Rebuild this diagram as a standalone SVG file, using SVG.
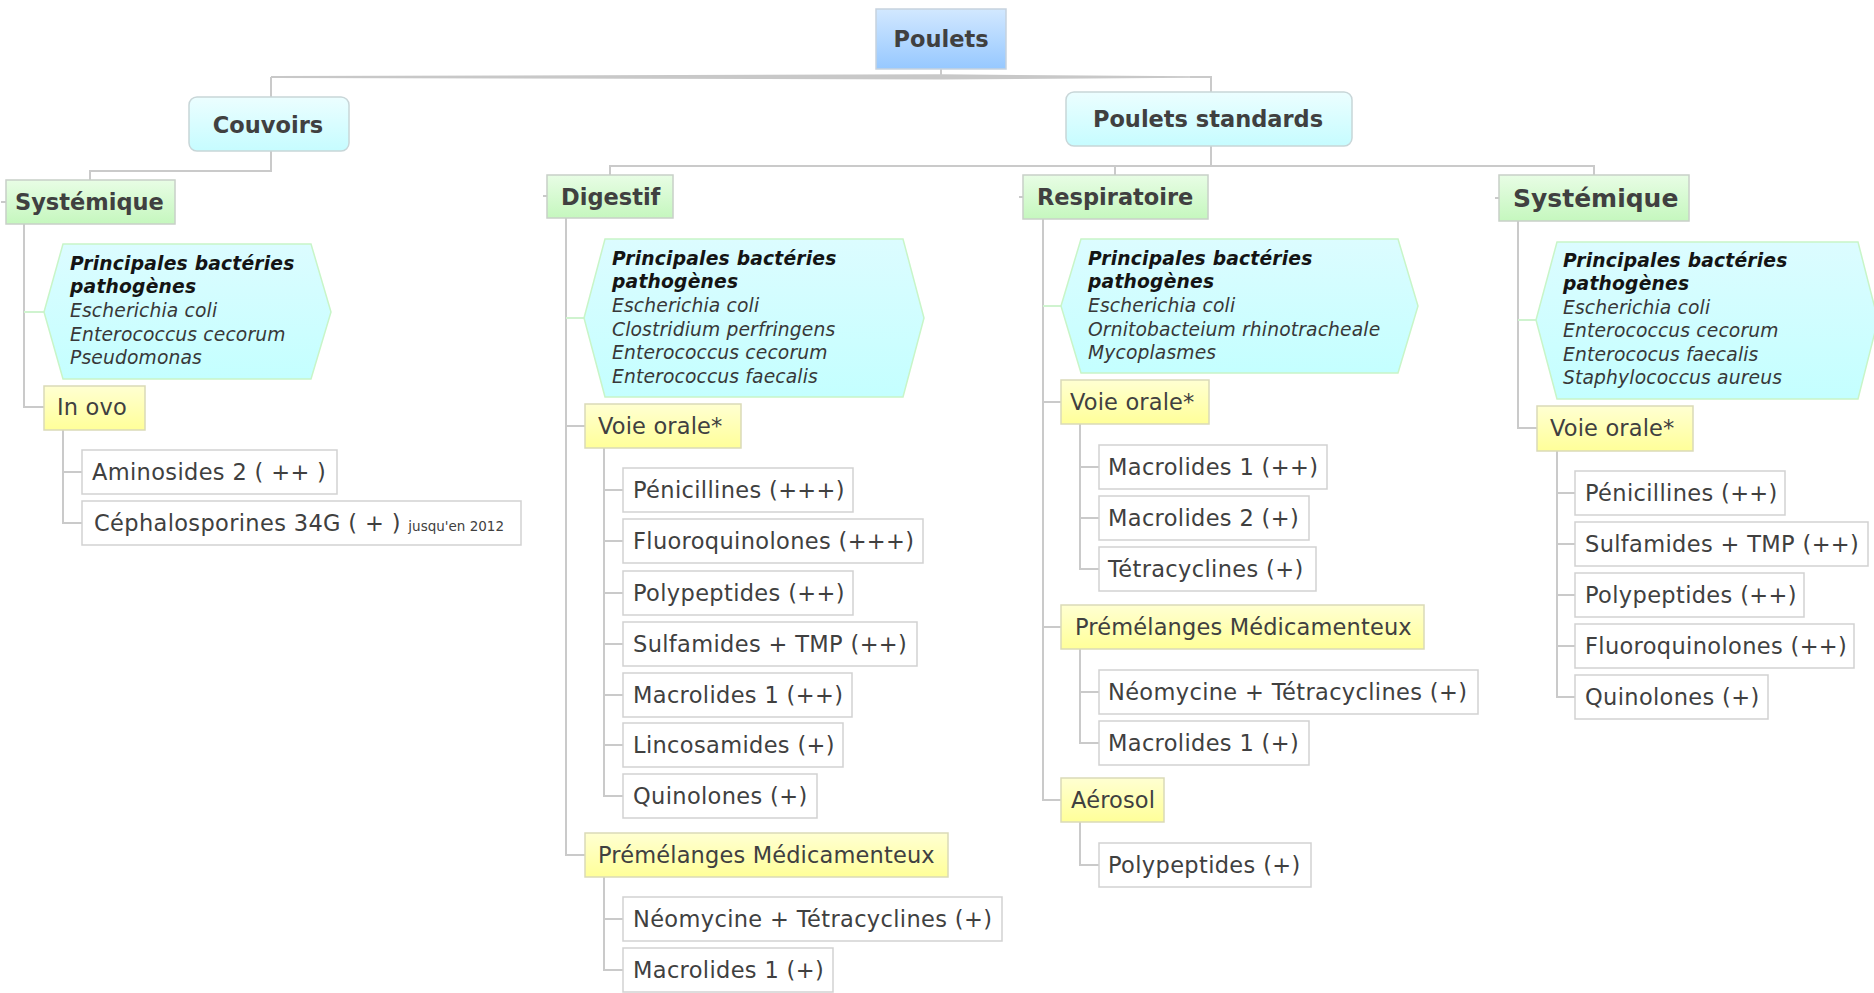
<svg xmlns="http://www.w3.org/2000/svg" width="1874" height="993" viewBox="0 0 1874 993">
<defs>
<linearGradient id="gBlue" x1="0" y1="0" x2="0" y2="1"><stop offset="0" stop-color="#d2e8ff"/><stop offset="1" stop-color="#96c8ff"/></linearGradient>
<linearGradient id="gCyan" x1="0" y1="0" x2="0" y2="1"><stop offset="0" stop-color="#ecfeff"/><stop offset="1" stop-color="#c6fcff"/></linearGradient>
<linearGradient id="gGreen" x1="0" y1="0" x2="0" y2="1"><stop offset="0" stop-color="#e8fde5"/><stop offset="1" stop-color="#c5f7be"/></linearGradient>
<linearGradient id="gYellow" x1="0" y1="0" x2="0" y2="1"><stop offset="0" stop-color="#ffffd2"/><stop offset="1" stop-color="#ffff99"/></linearGradient>
<linearGradient id="gHex" x1="0" y1="0" x2="0" y2="1"><stop offset="0" stop-color="#dcfcff"/><stop offset="1" stop-color="#c4ffff"/></linearGradient>
</defs>
<style>
.t{font-family:"DejaVu Sans",Verdana,sans-serif;fill:#404040}
.b{font-weight:bold;font-size:22.5px}
.r{font-size:22.5px;letter-spacing:0.35px}
.y{font-size:22.5px;letter-spacing:0.15px}
.hb{font-family:"DejaVu Sans",Verdana,sans-serif;font-weight:bold;font-style:italic;font-size:18.7px;letter-spacing:0.2px;fill:#141414}
.hi{font-family:"DejaVu Sans",Verdana,sans-serif;font-style:italic;font-size:18.7px;letter-spacing:0.15px;fill:#383838}
.leaf{fill:#ffffff;stroke:#d2d2d2;stroke-width:1.5}
.yel{fill:url(#gYellow);stroke:#dadab8;stroke-width:1.5}
.grn{fill:url(#gGreen);stroke:#c8d0c8;stroke-width:1.5}
.cyn{fill:url(#gCyan);stroke:#c8d6d8;stroke-width:1.5}
.hex{fill:url(#gHex);stroke:#c8f5c8;stroke-width:1.5}
.c{fill:none;stroke:#cacaca;stroke-width:2}
.cg{fill:none;stroke:#cff3cf;stroke-width:2}
</style>
<rect width="1874" height="993" fill="#ffffff"/>

<g id="connectors">
<polygon points="271,76 941,74.3 1195,76.3 1195,77.7 941,79.5 271,78" fill="#c8c8c8"/>
<path class="c" d="M941,69V76 M271,97V77 M1190,77H1211V92 M271,151V171H90V180 M1211,146V166 M610,175V166H1594V175 M1115,166V175"/>
<path class="c" d="M1,202H6 M543,196H547 M1019,197H1023 M1495,198H1499"/>
<path class="c" d="M24,224V407H44 M63,430V523H82 M63,472H82"/>
<path class="c" d="M566,218V855H585 M566,426H585 M604,448V796H623 M604,490H623 M604,541H623 M604,593H623 M604,644H623 M604,695H623 M604,745H623 M604,877V919H623"/>
<path class="c" d="M604,900V970H623"/>
<path class="c" d="M1043,219V800H1061 M1043,402H1061 M1043,627H1061 M1080,424V569H1099 M1080,467H1099 M1080,518H1099 M1080,649V743H1099 M1080,692H1099 M1080,822V865H1099"/>
<path class="c" d="M1518,221V428H1537 M1557,451V697H1575 M1557,493H1575 M1557,544H1575 M1557,595H1575 M1557,646H1575"/>
<path class="cg" d="M24,312H44 M566,318H584 M1043,306H1061 M1518,320H1536"/>
</g>

<g id="poulets"><rect x="876" y="9" width="130" height="60" fill="url(#gBlue)" stroke="#c6d2de" stroke-width="1.5"/><text class="t b" x="941" y="47" text-anchor="middle">Poulets</text></g>
<g id="couvoirs"><rect class="cyn" x="189" y="97" width="160" height="54" rx="8"/><text class="t b" x="268" y="133" text-anchor="middle">Couvoirs</text></g>
<g id="poulets-standards"><rect class="cyn" x="1066" y="92" width="286" height="54" rx="8"/><text class="t b" x="1208" y="127" text-anchor="middle">Poulets standards</text></g>

<g id="systemique-couvoirs"><rect class="grn" x="6" y="180" width="169" height="44"/><text class="t b" x="15" y="210">Systémique</text></g>
<g id="bact-couvoirs"><polygon class="hex" points="44,312 63,244 311,244 331,312 311,379 63,379"/>
<text class="hb" x="70" y="270">Principales bactéries</text><text class="hb" x="70" y="293">pathogènes</text>
<text class="hi" x="70" y="317">Escherichia coli</text><text class="hi" x="70" y="341">Enterococcus cecorum</text><text class="hi" x="70" y="364">Pseudomonas</text></g>
<g id="in-ovo"><rect class="yel" x="44" y="386" width="101" height="44"/><text class="t y" x="57" y="415">In ovo</text></g>
<g id="aminosides"><rect class="leaf" x="82" y="450" width="255" height="44"/><text class="t r" x="92" y="480">Aminosides 2 ( ++ )</text></g>
<g id="cephalosporines"><rect class="leaf" x="82" y="501" width="439" height="44"/><text class="t r" x="94" y="531">Céphalosporines 34G ( + ) <tspan font-size="13.5" letter-spacing="0">jusqu'en 2012</tspan></text></g>

<g id="digestif"><rect class="grn" x="547" y="175" width="126" height="43"/><text class="t b" x="561" y="205">Digestif</text></g>
<g id="bact-digestif"><polygon class="hex" points="584,318 605,239 903,239 924,318 903,397 605,397"/>
<text class="hb" x="612" y="265">Principales bactéries</text><text class="hb" x="612" y="288">pathogènes</text>
<text class="hi" x="612" y="312">Escherichia coli</text><text class="hi" x="612" y="336">Clostridium perfringens</text><text class="hi" x="612" y="359">Enterococcus cecorum</text><text class="hi" x="612" y="383">Enterococcus faecalis</text></g>
<g id="dig-voie-orale"><rect class="yel" x="585" y="404" width="156" height="44"/><text class="t y" x="598" y="434">Voie orale*</text></g>
<g id="dig-l1"><rect class="leaf" x="623" y="468" width="230" height="44"/><text class="t r" x="633" y="498">Pénicillines (+++)</text></g>
<g id="dig-l2"><rect class="leaf" x="623" y="519" width="300" height="44"/><text class="t r" x="633" y="549">Fluoroquinolones (+++)</text></g>
<g id="dig-l3"><rect class="leaf" x="623" y="571" width="230" height="44"/><text class="t r" x="633" y="601">Polypeptides (++)</text></g>
<g id="dig-l4"><rect class="leaf" x="623" y="622" width="294" height="44"/><text class="t r" x="633" y="652">Sulfamides + TMP (++)</text></g>
<g id="dig-l5"><rect class="leaf" x="623" y="673" width="229" height="44"/><text class="t r" x="633" y="703">Macrolides 1 (++)</text></g>
<g id="dig-l6"><rect class="leaf" x="623" y="723" width="220" height="44"/><text class="t r" x="633" y="753">Lincosamides (+)</text></g>
<g id="dig-l7"><rect class="leaf" x="623" y="774" width="194" height="44"/><text class="t r" x="633" y="804">Quinolones (+)</text></g>
<g id="dig-premelanges"><rect class="yel" x="585" y="833" width="363" height="44"/><text class="t y" x="598" y="863">Prémélanges Médicamenteux</text></g>
<g id="dig-l8"><rect class="leaf" x="623" y="897" width="379" height="44"/><text class="t r" x="633" y="927">Néomycine + Tétracyclines (+)</text></g>
<g id="dig-l9"><rect class="leaf" x="623" y="948" width="210" height="44"/><text class="t r" x="633" y="978">Macrolides 1 (+)</text></g>

<g id="respiratoire"><rect class="grn" x="1023" y="175" width="185" height="44"/><text class="t b" x="1037" y="205">Respiratoire</text></g>
<g id="bact-resp"><polygon class="hex" points="1061,306 1081,239 1398,239 1418,306 1398,373 1081,373"/>
<text class="hb" x="1088" y="265">Principales bactéries</text><text class="hb" x="1088" y="288">pathogènes</text>
<text class="hi" x="1088" y="312">Escherichia coli</text><text class="hi" x="1088" y="336">Ornitobacteium rhinotracheale</text><text class="hi" x="1088" y="359">Mycoplasmes</text></g>
<g id="resp-voie-orale"><rect class="yel" x="1061" y="380" width="148" height="44"/><text class="t y" x="1070" y="410">Voie orale*</text></g>
<g id="resp-l1"><rect class="leaf" x="1099" y="445" width="228" height="44"/><text class="t r" x="1108" y="475">Macrolides 1 (++)</text></g>
<g id="resp-l2"><rect class="leaf" x="1099" y="496" width="210" height="44"/><text class="t r" x="1108" y="526">Macrolides 2 (+)</text></g>
<g id="resp-l3"><rect class="leaf" x="1099" y="547" width="217" height="44"/><text class="t r" x="1108" y="577">Tétracyclines (+)</text></g>
<g id="resp-premelanges"><rect class="yel" x="1061" y="605" width="363" height="44"/><text class="t y" x="1075" y="635">Prémélanges Médicamenteux</text></g>
<g id="resp-l4"><rect class="leaf" x="1099" y="670" width="379" height="44"/><text class="t r" x="1108" y="700">Néomycine + Tétracyclines (+)</text></g>
<g id="resp-l5"><rect class="leaf" x="1099" y="721" width="210" height="44"/><text class="t r" x="1108" y="751">Macrolides 1 (+)</text></g>
<g id="resp-aerosol"><rect class="yel" x="1061" y="778" width="103" height="44"/><text class="t y" x="1071" y="808">Aérosol</text></g>
<g id="resp-l6"><rect class="leaf" x="1099" y="843" width="212" height="44"/><text class="t r" x="1108" y="873">Polypeptides (+)</text></g>

<g id="systemique-std"><rect class="grn" x="1499" y="175" width="190" height="46"/><text class="t b" x="1513" y="207" style="font-size:25px">Systémique</text></g>
<g id="bact-syst"><polygon class="hex" points="1536,320 1557,242 1858,242 1878,320 1858,399 1557,399"/>
<text class="hb" x="1563" y="267">Principales bactéries</text><text class="hb" x="1563" y="290">pathogènes</text>
<text class="hi" x="1563" y="314">Escherichia coli</text><text class="hi" x="1563" y="337">Enterococcus cecorum</text><text class="hi" x="1563" y="361">Enterococus faecalis</text><text class="hi" x="1563" y="384">Staphylococcus aureus</text></g>
<g id="syst-voie-orale"><rect class="yel" x="1537" y="406" width="156" height="45"/><text class="t y" x="1550" y="436">Voie orale*</text></g>
<g id="syst-l1"><rect class="leaf" x="1575" y="471" width="210" height="44"/><text class="t r" x="1585" y="501">Pénicillines (++)</text></g>
<g id="syst-l2"><rect class="leaf" x="1575" y="522" width="293" height="44"/><text class="t r" x="1585" y="552">Sulfamides + TMP (++)</text></g>
<g id="syst-l3"><rect class="leaf" x="1575" y="573" width="229" height="44"/><text class="t r" x="1585" y="603">Polypeptides (++)</text></g>
<g id="syst-l4"><rect class="leaf" x="1575" y="624" width="279" height="44"/><text class="t r" x="1585" y="654">Fluoroquinolones (++)</text></g>
<g id="syst-l5"><rect class="leaf" x="1575" y="675" width="193" height="44"/><text class="t r" x="1585" y="705">Quinolones (+)</text></g>
</svg>
